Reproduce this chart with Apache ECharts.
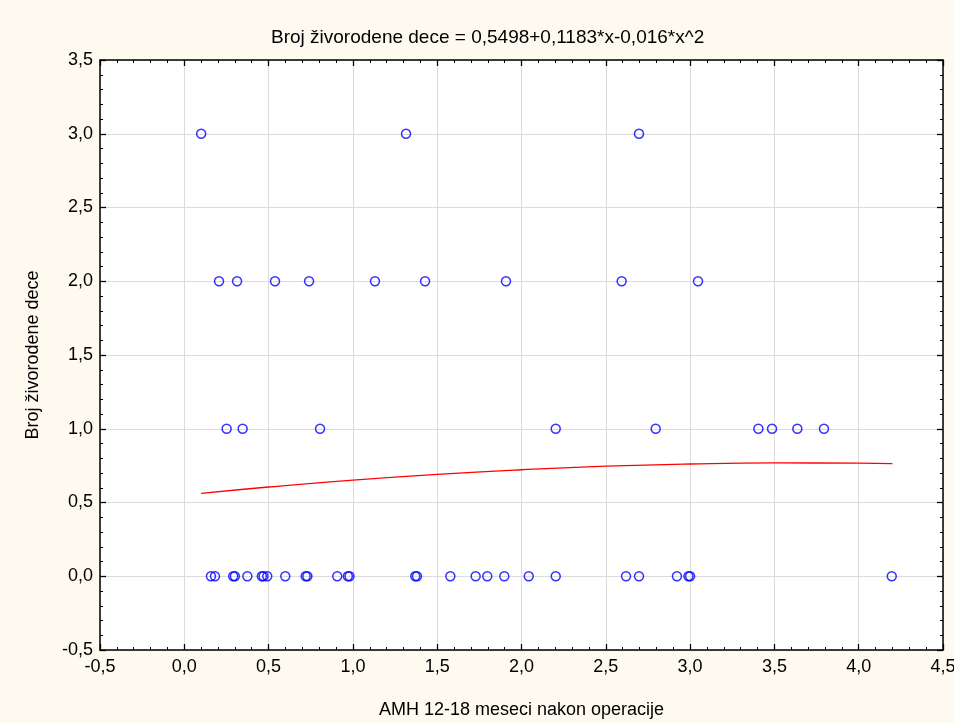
<!DOCTYPE html>
<html>
<head>
<meta charset="utf-8">
<script src="https://cdn.jsdelivr.net/npm/echarts@6/dist/echarts.min.js"></script>
<style>
html,body{margin:0;padding:0;background:#fefaf0;}
#c{width:954px;height:723px;}
</style>
</head>
<body>
<div id="c"></div>
<script>
// Observed AMH values grouped by number of live-born children
var xZero = [0.158, 0.182, 0.29, 0.30, 0.374, 0.46, 0.47, 0.492, 0.599, 0.72, 0.73, 0.907, 0.97, 0.98,
             1.37, 1.38, 1.578, 1.728, 1.797, 1.898, 2.043, 2.203, 2.62, 2.697, 2.922, 2.99, 3.0, 4.196];
var xOne = [0.251, 0.346, 0.805, 2.203, 2.796, 3.405, 3.486, 3.636, 3.794];
var xTwo = [0.206, 0.313, 0.538, 0.740, 1.131, 1.428, 1.908, 2.594, 3.047];
var xThree = [0.10, 1.315, 2.697];
// Fitted curve
var fitX = [0.1, 0.5, 1.0, 1.5, 2.0, 2.5, 3.0, 3.5, 4.0, 4.2];
var fitY = [0.562, 0.605, 0.652, 0.691, 0.722, 0.746, 0.761, 0.768, 0.767, 0.764];
var xTicks = {min: -0.5, max: 4.5, interval: 0.5};
var yTicks = {min: -0.5, max: 3.5, interval: 0.5};
var titleText = 'Broj živorodene dece = 0,5498+0,1183*x-0,016*x^2';
var xName = 'AMH 12-18 meseci nakon operacije';
var yName = 'Broj živorodene dece';

var pts = [];
[[xZero,0],[xOne,1],[xTwo,2],[xThree,3]].forEach(function(g){
  g[0].forEach(function(x){ pts.push([x, g[1]]); });
});
var fit = fitX.map(function(x,i){ return [x, fitY[i]]; });

var fmt = function(v){ return v.toFixed(1).replace('.', ','); };
var font = 'Liberation Sans, Arial, sans-serif';
var axisLine = {show:true, onZero:false, lineStyle:{color:'#000', width:1.5}};
var tick = {show:true, inside:true, length:6, lineStyle:{color:'#000', width:1.3}};
var minor = {show:true, splitNumber:5, length:3, lineStyle:{color:'#000', width:1}};

function mkX(pos, main){
  return {type:'value', position:pos, min:xTicks.min, max:xTicks.max, interval:xTicks.interval,
    axisLine:axisLine, axisTick:tick, minorTick:minor,
    splitLine:{show:main, lineStyle:{color:'#dcdcdc', width:1}},
    axisLabel:{show:main, formatter:fmt, color:'#000', fontSize:18, fontFamily:font, margin:8},
    name: main ? xName : '', nameLocation:'middle', nameGap:51,
    nameTextStyle:{color:'#000', fontSize:18, fontFamily:font}};
}
function mkY(pos, main){
  return {type:'value', position:pos, min:yTicks.min, max:yTicks.max, interval:yTicks.interval,
    axisLine:axisLine, axisTick:tick, minorTick:minor,
    splitLine:{show:main, lineStyle:{color:'#dcdcdc', width:1}},
    axisLabel:{show:main, formatter:fmt, color:'#000', fontSize:18, fontFamily:font, margin:7},
    name: main ? yName : '', nameLocation:'middle', nameGap:58,
    nameTextStyle:{color:'#000', fontSize:18, fontFamily:font}};
}

var chart = echarts.init(document.getElementById('c'), null, {renderer:'canvas'});
chart.setOption({
  backgroundColor:'#fefaf0',
  animation:false,
  title:{text:titleText, left:266, top:23, textStyle:{color:'#000', fontSize:19, fontWeight:'normal', fontFamily:font}},
  grid:{left:100, right:11, top:60, bottom:73, show:true, backgroundColor:'#ffffff', borderWidth:0,
        containLabel:false, outerBoundsMode:'none'},
  xAxis:[mkX('bottom', true), mkX('top', false)],
  yAxis:[mkY('left', true), mkY('right', false)],
  series:[
    {type:'scatter', data:pts, symbol:'circle', symbolSize:9,
     itemStyle:{color:'rgba(0,0,0,0)', borderColor:'#0000ff', borderWidth:1.5}, z:3},
    {type:'line', data:fit, smooth:true, showSymbol:false, symbol:'none',
     lineStyle:{color:'#ff0000', width:1.3}, z:2}
  ]
});
</script>
</body>
</html>
